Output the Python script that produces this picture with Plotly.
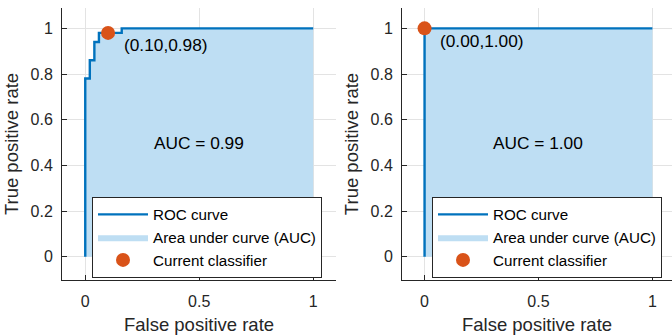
import plotly.graph_objects as go

# Data
fpr_a = [0, 0, 0.02, 0.02, 0.04, 0.04, 0.06, 0.06, 0.16, 0.16, 1]
tpr_a = [0, 0.78, 0.78, 0.86, 0.86, 0.94, 0.94, 0.98, 0.98, 1, 1]
op_a = (0.10, 0.98)
auc_a = 0.99

fpr_b = [0, 0, 1]
tpr_b = [0, 1, 1]
op_b = (0.00, 1.00)
auc_b = 1.00

xticks = [0, 0.5, 1]
xticklabels = ["0", "0.5", "1"]
yticks = [0, 0.2, 0.4, 0.6, 0.8, 1]
yticklabels = ["0", "0.2", "0.4", "0.6", "0.8", "1"]

LINE = "#0072BD"
FILL = "rgb(190,222,243)"
DOT = "#D95319"
AX = "#262626"
FONT = "Liberation Sans, Arial, sans-serif"

fig = go.Figure()

panels = [
    (fpr_a, tpr_a, op_a, auc_a, "x", "y", "legend"),
    (fpr_b, tpr_b, op_b, auc_b, "x2", "y2", "legend2"),
]
for fpr, tpr, op, auc, xa, ya, lg in panels:
    fig.add_trace(go.Scatter(x=fpr, y=tpr, fill="tozeroy", fillcolor=FILL,
                             mode="lines", line=dict(width=0),
                             name="Area under curve (AUC)", xaxis=xa, yaxis=ya,
                             legend=lg, legendrank=2))
    fig.add_trace(go.Scatter(x=fpr, y=tpr, mode="lines",
                             line=dict(color=LINE, width=2.4),
                             name="ROC curve", xaxis=xa, yaxis=ya,
                             legend=lg, legendrank=1))
    fig.add_trace(go.Scatter(x=[op[0]], y=[op[1]], mode="markers",
                             marker=dict(color=DOT, size=14),
                             name="Current classifier", xaxis=xa, yaxis=ya,
                             legend=lg, legendrank=3, cliponaxis=False))
    fig.add_annotation(x=op[0] + 0.06, y=op[1] - 0.055, xref=xa, yref=ya,
                       text="(%.2f,%.2f)" % op, showarrow=False, xanchor="left",
                       font=dict(size=17.3, color="black", family=FONT))
    fig.add_annotation(x=0.5, y=0.5, xref=xa, yref=ya,
                       text="AUC = %.2f" % auc, showarrow=False,
                       font=dict(size=17.3, color="black", family=FONT))

W, H = 672, 336
def xdom(a, b):
    return [a / W, b / W]
top, bot = 8, 280
ydom = [1 - bot / H, 1 - top / H]

axis_common = dict(showline=True, linecolor=AX, linewidth=1, mirror=False,
                   ticks="inside", ticklen=5, tickcolor=AX,
                   showgrid=True, gridcolor="#e3e3e3", gridwidth=1,
                   zeroline=False, automargin=False,
                   tickfont=dict(size=16, color=AX, family=FONT))
TF = dict(size=18.5, color=AX, family=FONT)
LEG = dict(yanchor="top", xanchor="left", y=1 - 197 / H,
           bgcolor="white", bordercolor=AX, borderwidth=1,
           font=dict(size=15.2, color="black", family=FONT),
           itemwidth=50, tracegroupgap=0)

fig.update_layout(
    width=W, height=H,
    margin=dict(l=0, r=0, t=0, b=0, autoexpand=False),
    paper_bgcolor="white", plot_bgcolor="white",
    font=dict(family=FONT, color=AX),
    xaxis=dict(domain=xdom(62, 336), range=[-0.102, 1.1], anchor="y",
               tickvals=xticks, ticktext=xticklabels, ticklabelstandoff=7,
               title=dict(text="False positive rate", font=TF, standoff=8),
               **axis_common),
    yaxis=dict(domain=ydom, range=[-0.102, 1.089], anchor="x",
               tickvals=yticks, ticktext=yticklabels, ticklabelstandoff=5,
               title=dict(text="True positive rate", font=TF, standoff=7),
               **axis_common),
    xaxis2=dict(domain=xdom(402, 672), range=[-0.099, 1.086], anchor="y2",
                tickvals=xticks, ticktext=xticklabels, ticklabelstandoff=7,
                title=dict(text="False positive rate", font=TF, standoff=8),
                **axis_common),
    yaxis2=dict(domain=ydom, range=[-0.102, 1.089], anchor="x2",
                tickvals=yticks, ticktext=yticklabels, ticklabelstandoff=5,
                title=dict(text="True positive rate", font=TF, standoff=7),
                **axis_common),
    legend=dict(x=92 / W, **LEG),
    legend2=dict(x=432 / W, **LEG),
)

fig.write_html("out.html", config={"displayModeBar": False},
               post_script="document.body.style.margin='0px';")
